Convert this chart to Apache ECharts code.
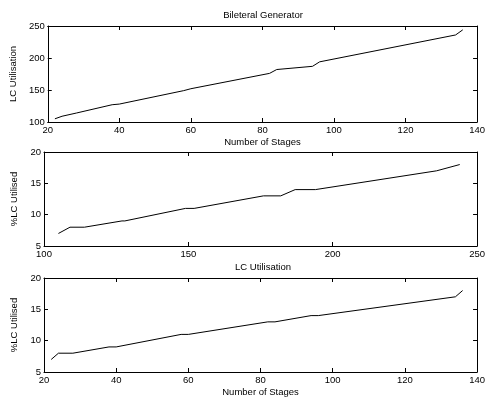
<!DOCTYPE html>
<html>
<head>
<meta charset="utf-8">
<script src="https://cdn.jsdelivr.net/npm/echarts@6/dist/echarts.min.js"></script>
<style>html,body{margin:0;padding:0;background:#fff;}#c{width:488px;height:398px;}</style>
</head>
<body>
<div id="c"></div>
<script>
// Data
var stages = [22, 24, 28, 38, 40, 58, 60, 82, 84, 94, 96, 134, 136];
var lcUtil = [105, 109, 114, 127, 128, 149, 152, 176, 182, 187, 194, 236, 244];
var pctLC  = [7, 8, 8, 9, 9, 11, 11, 13, 13, 14, 14, 17, 18];

var stageTicks = [20, 40, 60, 80, 100, 120, 140];
var lcTicks = [100, 150, 200, 250];
var pctTicks = [5, 10, 15, 20];

var FONT = 'Liberation Sans';
var FS = 9.5;
var lineStyle = {color: '#000', width: 1};

function pairs(xs, ys) { return xs.map(function (x, i) { return [x, ys[i]]; }); }

function xAx(gi, min, max, interval, name, pos) {
  var main = pos === 'bottom';
  return {
    type: 'value', gridIndex: gi, position: pos, min: min, max: max, interval: interval,
    axisLine: {show: true, onZero: false, lineStyle: lineStyle},
    axisTick: {show: true, inside: true, length: 4, lineStyle: lineStyle},
    axisLabel: {show: main, margin: 3, color: '#000', fontFamily: FONT, fontSize: FS},
    splitLine: {show: false},
    name: main ? name : '', nameLocation: 'middle', nameGap: 15,
    nameTextStyle: {color: '#000', fontFamily: FONT, fontSize: FS}
  };
}
function yAx(gi, min, max, interval, name, pos, gap) {
  var main = pos === 'left';
  return {
    type: 'value', gridIndex: gi, position: pos, min: min, max: max, interval: interval,
    axisLine: {show: true, onZero: false, lineStyle: lineStyle},
    axisTick: {show: true, inside: true, length: 4, lineStyle: lineStyle},
    axisLabel: {show: main, margin: 3, color: '#000', fontFamily: FONT, fontSize: FS},
    splitLine: {show: false},
    name: main ? name : '', nameLocation: 'middle', nameGap: gap || 20,
    nameTextStyle: {color: '#000', fontFamily: FONT, fontSize: FS}
  };
}

var chart = echarts.init(document.getElementById('c'));
chart.setOption({
  animation: false,
  backgroundColor: '#fff',
  title: [
    {text: 'Bileteral Generator', left: 263, top: 10, textAlign: 'center', padding: 0,
     textStyle: {color: '#000', fontFamily: FONT, fontSize: FS, fontWeight: 'normal'}},
    {text: 'LC Utilisation', left: 263, top: 262, textAlign: 'center', padding: 0,
     textStyle: {color: '#000', fontFamily: FONT, fontSize: FS, fontWeight: 'normal'}}
  ],
  grid: [
    {left: 44, right: 6, top: 26, height: 96},
    {left: 44, right: 6, top: 152, height: 94},
    {left: 44, right: 6, top: 278, height: 95}
  ],
  xAxis: [
    xAx(0, 20, 140, 20, 'Number of Stages', 'bottom'),
    xAx(0, 20, 140, 20, '', 'top'),
    xAx(1, 100, 250, 50, '', 'bottom'),
    xAx(1, 100, 250, 50, '', 'top'),
    xAx(2, 20, 140, 20, 'Number of Stages', 'bottom'),
    xAx(2, 20, 140, 20, '', 'top')
  ],
  yAxis: [
    yAx(0, 100, 250, 50, 'LC Utilisation', 'left', 21),
    yAx(0, 100, 250, 50, '', 'right'),
    yAx(1, 5, 20, 5, '%LC Utilised', 'left', 16),
    yAx(1, 5, 20, 5, '', 'right'),
    yAx(2, 5, 20, 5, '%LC Utilised', 'left', 16),
    yAx(2, 5, 20, 5, '', 'right')
  ],
  series: [
    {type: 'line', xAxisIndex: 0, yAxisIndex: 0, data: pairs(stages, lcUtil), showSymbol: false, lineStyle: lineStyle, itemStyle: {color: '#000'}},
    {type: 'line', xAxisIndex: 2, yAxisIndex: 2, data: pairs(lcUtil, pctLC), showSymbol: false, lineStyle: lineStyle, itemStyle: {color: '#000'}},
    {type: 'line', xAxisIndex: 4, yAxisIndex: 4, data: pairs(stages, pctLC), showSymbol: false, lineStyle: lineStyle, itemStyle: {color: '#000'}}
  ]
});
</script>
</body>
</html>
